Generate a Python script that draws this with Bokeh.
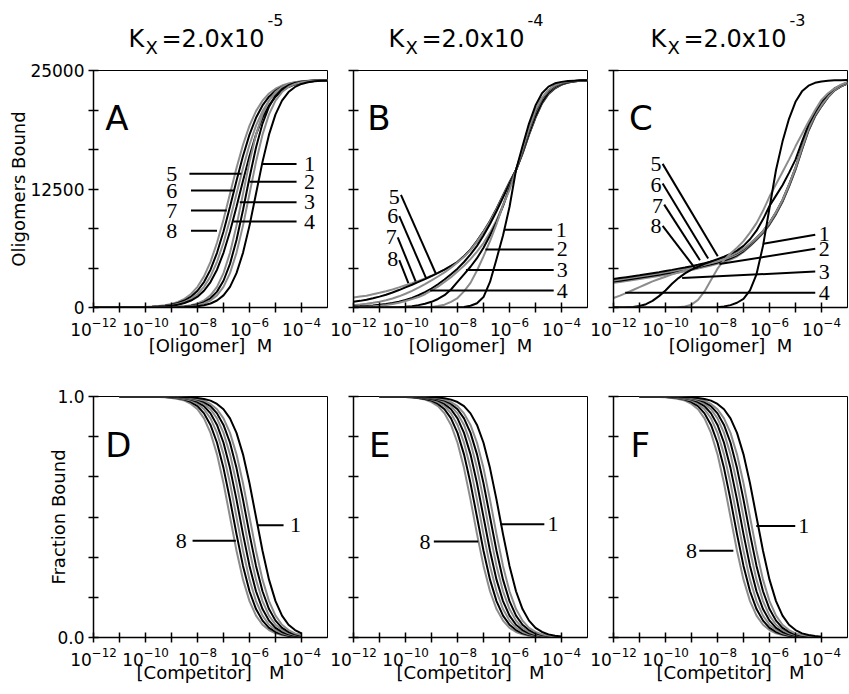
from bokeh.plotting import figure
from bokeh.models import Range1d, FixedTicker, Label, PrintfTickFormatter
from bokeh.layouts import column, row
from bokeh.embed import file_html
from bokeh.resources import INLINE

# ---------------- data (log10 concentration grids) ----------------
LOG_X_TOP = [-12.0, -11.75, -11.5, -11.25, -11.0, -10.75, -10.5, -10.25, -10.0, -9.75, -9.5, -9.25,
             -9.0, -8.75, -8.5, -8.25, -8.0, -7.75, -7.5, -7.25, -7.0, -6.75, -6.5, -6.25, -6.0,
             -5.75, -5.5, -5.25, -5.0, -4.75, -4.5, -4.25, -4.0, -3.75, -3.5, -3.25, -3.0]
LOG_X_BOT = [-11.0, -10.75, -10.5, -10.25, -10.0, -9.75, -9.5, -9.25, -9.0, -8.75, -8.5, -8.25,
             -8.0, -7.75, -7.5, -7.25, -7.0, -6.75, -6.5, -6.25, -6.0, -5.75, -5.5, -5.25, -5.0,
             -4.75, -4.5, -4.25, -4.0]

# Panel A : oligomers bound, Kx = 2.0e-5
A1 = [0,0,0,0,0,0,0,1,1,2,4,8,13,24,43,76,134,238,419,736,1278,2182,3624,5767,8638,12000,15362,18233,20376,21818,22723,23263,23581,23762,23866,23924,23957]
A2 = [0,0,0,0,0,0,1,1,2,4,8,13,24,43,76,134,238,419,736,1278,2182,3624,5767,8638,12000,15362,18233,20376,21818,22723,23263,23581,23762,23866,23924,23957,23976]
A3 = [0,0,0,0,0,1,1,2,3,6,10,18,32,57,101,179,316,556,971,1674,2822,4601,7118,10284,13716,16882,19399,21178,22325,23028,23443,23684,23821,23899,23943,23968,23982]
A4 = [0,0,0,0,0,1,1,2,4,8,13,24,43,76,134,238,419,736,1278,2182,3624,5767,8638,12000,15362,18233,20376,21818,22723,23263,23581,23762,23866,23924,23957,23976,23987]
A5 = [1,1,2,3,5,8,12,19,30,48,76,120,189,298,469,736,1145,1766,2683,3991,5767,8014,10625,13375,15986,18233,20009,21317,22234,22855,23264,23531,23702,23811,23880,23924,23952]
A6 = [1,2,2,4,6,10,15,24,38,60,95,150,238,374,588,919,1426,2182,3283,4819,6833,9286,12000,14714,17167,19181,20717,21818,22574,23081,23412,23626,23762,23850,23905,23940,23962]
A7 = [1,2,3,5,8,12,19,30,48,76,120,189,298,469,736,1145,1766,2683,3991,5767,8014,10625,13375,15986,18233,20009,21317,22234,22855,23264,23531,23702,23811,23880,23924,23952,23970]
A8 = [2,2,4,6,10,15,24,38,60,95,150,238,374,588,919,1426,2182,3283,4819,6833,9286,12000,14714,17167,19181,20717,21818,22574,23081,23412,23626,23762,23850,23905,23940,23962,23976]

# Panel B : oligomers bound, Kx = 2.0e-4
B1 = [0,0,0,0,0,0,0,0,0,0,0,0,0,0,5,10,20,60,180,450,1100,2700,5100,7600,10600,14500,17000,19400,21300,22600,23300,23650,23800,23880,23930,23960,23980]
B2 = [0,0,0,0,0,0,1,3,5,10,20,35,60,150,300,600,1000,1700,2600,3900,5400,7000,8800,10800,12400,14500,16700,18900,20800,22100,22950,23450,23700,23830,23900,23940,23970]
B3 = [0,1,2,4,8,15,30,50,80,140,250,400,600,900,1300,1900,2700,3500,4300,5200,6300,7600,9000,10700,12600,14500,16600,18800,20700,22050,22900,23400,23680,23820,23900,23940,23970]
B4 = [30,50,80,120,180,260,370,500,680,880,1100,1400,1800,2200,2700,3200,3800,4400,5100,5900,6800,7900,9200,10800,12700,14500,16500,18700,20600,22000,22850,23350,23650,23800,23890,23940,23970]
B5 = [100,130,170,220,290,370,480,620,800,1020,1290,1620,2000,2450,2950,3500,4100,4800,5600,6500,7600,8800,10150,11600,13050,14500,16350,18400,20200,21650,22650,23250,23560,23750,23870,23930,23965]
B6 = [250,310,390,490,610,760,950,1180,1450,1760,2100,2470,2860,3270,3700,4200,4750,5350,6050,6950,7950,9050,10350,11750,13150,14500,16300,18300,20100,21600,22600,23200,23540,23740,23860,23930,23965]
B7 = [600,700,820,970,1150,1350,1580,1840,2120,2400,2700,3000,3320,3650,4000,4380,4800,5400,6100,7000,8000,9100,10400,11800,13200,14500,16250,18250,20050,21550,22550,23150,23520,23730,23860,23920,23960]
B8 = [1050,1150,1250,1400,1550,1720,1900,2120,2350,2570,2800,3070,3350,3660,4000,4380,4820,5420,6130,7030,8050,9150,10450,11850,13250,14500,16200,18200,20000,21500,22500,23100,23500,23720,23850,23920,23960]

# Panel C : oligomers bound, Kx = 2.0e-3
C1 = [0,0,0,0,0,0,0,0,0,0,0,0,0,0,0,0,20,100,250,500,900,1800,3500,6500,10500,14500,17500,19900,21700,22800,23400,23700,23850,23920,23960,23980,23990]
C2 = [0,0,0,0,0,0,0,0,0,0,20,100,300,800,1700,2900,4100,5000,5700,6300,7000,7900,8900,10200,11700,13000,14300,15600,17000,18300,19600,20800,21900,22600,23100,23500,23780]
C3 = [0,5,20,60,150,350,700,1200,1800,2500,3100,3600,4000,4300,4600,4850,5100,5350,5650,6000,6500,7200,8100,9300,10700,11800,12900,14200,15600,17500,19300,20600,21700,22500,23100,23450,23750]
C4 = [1000,1250,1550,1850,2150,2450,2750,3000,3250,3500,3700,3900,4100,4300,4500,4700,4900,5150,5450,5800,6200,6750,7350,8050,8950,10050,11350,12950,14750,16850,18850,20350,21350,22250,22950,23350,23650]
C5 = [3000,3100,3200,3300,3400,3510,3620,3730,3850,3970,4100,4220,4350,4500,4660,4830,5000,5220,5450,5750,6150,6700,7350,8050,8950,10050,11350,12950,14750,16850,18850,20350,21350,22250,22950,23350,23650]
C6 = [2860,2960,3060,3160,3260,3370,3480,3590,3710,3830,3960,4080,4210,4360,4520,4690,4860,5080,5310,5620,6050,6620,7280,7980,8880,9980,11280,12880,14680,16780,18780,20280,21300,22220,22930,23340,23640]
C7 = [2730,2830,2930,3030,3130,3240,3350,3460,3580,3700,3830,3950,4080,4230,4390,4560,4730,4950,5180,5500,5950,6540,7200,7900,8800,9900,11200,12800,14600,16700,18700,20200,21250,22190,22910,23330,23630]
C8 = [2600,2700,2800,2900,3000,3110,3220,3330,3450,3570,3700,3820,3950,4100,4260,4430,4600,4820,5050,5380,5850,6450,7120,7820,8720,9820,11120,12720,14520,16620,18620,20120,21200,22160,22890,23320,23620]

# Panel D : fraction bound vs competitor, Kx = 2.0e-5
D1 = [1,1,1,1,1,1,1,1,0.999,0.999,0.998,0.997,0.994,0.990,0.983,0.969,0.947,0.909,0.849,0.760,0.640,0.500,0.360,0.240,0.151,0.091,0.053,0.031,0.017]
D2 = [1,1,1,1,1,1,1,0.999,0.999,0.998,0.997,0.994,0.990,0.983,0.969,0.947,0.909,0.849,0.760,0.640,0.500,0.360,0.240,0.151,0.091,0.053,0.031,0.017,0.010]
D3 = [1,1,1,1,1,1,1,0.999,0.999,0.998,0.996,0.993,0.987,0.977,0.960,0.930,0.882,0.808,0.703,0.572,0.429,0.297,0.192,0.118,0.070,0.040,0.023,0.013,0.007]
D4 = [1,1,1,1,1,1,0.999,0.999,0.998,0.997,0.994,0.990,0.983,0.969,0.947,0.909,0.849,0.760,0.640,0.500,0.360,0.240,0.151,0.091,0.053,0.031,0.017,0.010,0.006]
D5 = [1,1,1,1,1,1,0.999,0.999,0.998,0.996,0.993,0.987,0.977,0.960,0.930,0.882,0.808,0.703,0.572,0.429,0.297,0.192,0.118,0.070,0.040,0.023,0.013,0.007,0.004]
D6 = [1,1,1,1,1,0.999,0.999,0.998,0.997,0.994,0.990,0.983,0.969,0.947,0.909,0.849,0.760,0.640,0.500,0.360,0.240,0.151,0.091,0.053,0.031,0.017,0.010,0.006,0.003]
D7 = [1,1,1,1,1,0.999,0.999,0.998,0.996,0.993,0.987,0.977,0.960,0.930,0.882,0.808,0.703,0.572,0.429,0.297,0.192,0.118,0.070,0.040,0.023,0.013,0.007,0.004,0.002]
D8 = [1,1,1,1,0.999,0.999,0.998,0.997,0.994,0.990,0.983,0.969,0.947,0.909,0.849,0.760,0.640,0.500,0.360,0.240,0.151,0.091,0.053,0.031,0.017,0.010,0.006,0.003,0.002]

# Panel E : Kx = 2.0e-4
E1 = [1,1,1,1,1,1,0.999,0.999,0.998,0.996,0.993,0.987,0.977,0.960,0.930,0.882,0.808,0.703,0.572,0.429,0.297,0.192,0.118,0.070,0.040,0.023,0.013,0.007,0.004]
E2 = [1,1,1,1,1,0.999,0.999,0.998,0.996,0.993,0.987,0.977,0.960,0.930,0.882,0.808,0.703,0.572,0.429,0.297,0.192,0.118,0.070,0.040,0.023,0.013,0.007,0.004,0.002]
E3 = [1,1,1,1,0.999,0.999,0.998,0.997,0.994,0.990,0.983,0.969,0.947,0.909,0.849,0.760,0.640,0.500,0.360,0.240,0.151,0.091,0.053,0.031,0.017,0.010,0.006,0.003,0.002]
E4 = [1,1,1,1,0.999,0.999,0.998,0.996,0.993,0.987,0.977,0.960,0.930,0.882,0.808,0.703,0.572,0.429,0.297,0.192,0.118,0.070,0.040,0.023,0.013,0.007,0.004,0.002,0.001]
E5 = [1,1,1,0.999,0.999,0.998,0.997,0.994,0.990,0.983,0.969,0.947,0.909,0.849,0.760,0.640,0.500,0.360,0.240,0.151,0.091,0.053,0.031,0.017,0.010,0.006,0.003,0.002,0.001]
E6 = [1,1,1,0.999,0.999,0.998,0.996,0.993,0.987,0.977,0.960,0.930,0.882,0.808,0.703,0.572,0.429,0.297,0.192,0.118,0.070,0.040,0.023,0.013,0.007,0.004,0.002,0.001,0.001]
E7 = [1,1,0.999,0.999,0.998,0.997,0.994,0.990,0.983,0.969,0.947,0.909,0.849,0.760,0.640,0.500,0.360,0.240,0.151,0.091,0.053,0.031,0.017,0.010,0.006,0.003,0.002,0.001,0.001]
E8 = [1,1,0.999,0.999,0.998,0.996,0.993,0.987,0.977,0.960,0.930,0.882,0.808,0.703,0.572,0.429,0.297,0.192,0.118,0.070,0.040,0.023,0.013,0.007,0.004,0.002,0.001,0.001,0.0]

# Panel F : Kx = 2.0e-3
F1 = [1,1,1,1,1,0.999,0.999,0.998,0.997,0.994,0.990,0.983,0.969,0.947,0.909,0.849,0.760,0.640,0.500,0.360,0.240,0.151,0.091,0.053,0.031,0.017,0.010,0.006,0.003]
F2 = [1,1,1,1,0.999,0.999,0.998,0.997,0.994,0.990,0.983,0.969,0.947,0.909,0.849,0.760,0.640,0.500,0.360,0.240,0.151,0.091,0.053,0.031,0.017,0.010,0.006,0.003,0.002]
F3 = [1,1,1,1,0.999,0.999,0.998,0.996,0.993,0.987,0.977,0.960,0.930,0.882,0.808,0.703,0.572,0.429,0.297,0.192,0.118,0.070,0.040,0.023,0.013,0.007,0.004,0.002,0.001]
F4 = [1,1,1,0.999,0.999,0.998,0.997,0.994,0.990,0.983,0.969,0.947,0.909,0.849,0.760,0.640,0.500,0.360,0.240,0.151,0.091,0.053,0.031,0.017,0.010,0.006,0.003,0.002,0.001]
F5 = [1,1,1,0.999,0.999,0.998,0.996,0.993,0.987,0.977,0.960,0.930,0.882,0.808,0.703,0.572,0.429,0.297,0.192,0.118,0.070,0.040,0.023,0.013,0.007,0.004,0.002,0.001,0.001]
F6 = [1,1,0.999,0.999,0.998,0.997,0.994,0.990,0.983,0.969,0.947,0.909,0.849,0.760,0.640,0.500,0.360,0.240,0.151,0.091,0.053,0.031,0.017,0.010,0.006,0.003,0.002,0.001,0.001]
F7 = [1,1,0.999,0.999,0.998,0.996,0.993,0.987,0.977,0.960,0.930,0.882,0.808,0.703,0.572,0.429,0.297,0.192,0.118,0.070,0.040,0.023,0.013,0.007,0.004,0.002,0.001,0.001,0.0]
F8 = [1,0.999,0.999,0.998,0.997,0.994,0.990,0.983,0.969,0.947,0.909,0.849,0.760,0.640,0.500,0.360,0.240,0.151,0.091,0.053,0.031,0.017,0.010,0.006,0.003,0.002,0.001,0.001,0.0]

KX_EXPONENTS = ["-5", "-4", "-3"]
PANEL_LETTERS = ["A", "B", "C", "D", "E", "F"]
X_LABEL_EXPONENTS = [-12, -10, -8, -6, -4]
X_MINOR_EXPONENTS = [-11, -9, -7, -5]
Y_LABEL_TOP = [0, 12500, 25000]
Y_LABEL_BOT = [0.0, 1.0]

# ---------------- annotations (text, text x(log), text y, align, x0, y0, x1, y1) ----------------
A_NOTES = [("1", -3.9, 15150, "left", -5.53, 15150, -4.19, 15150),
           ("2", -3.9, 13260, "left", -6.0, 13260, -4.19, 13260),
           ("3", -3.9, 11090, "left", -6.375, 11090, -4.19, 11090),
           ("4", -3.9, 9060, "left", -6.625, 9060, -4.19, 9060),
           ("5", -8.78, 14120, "right", -8.31, 14120, -6.31, 14120),
           ("6", -8.78, 12330, "right", -8.25, 12330, -6.56, 12330),
           ("7", -8.78, 10230, "right", -8.25, 10230, -6.875, 10230),
           ("8", -8.78, 8090, "right", -8.25, 8090, -7.25, 8090)]
B_NOTES = [("1", -4.22, 8200, "left", -6.175, 8200, -4.36, 8200),
           ("2", -4.18, 6130, "left", -6.925, 6130, -4.3, 6130),
           ("3", -4.18, 3960, "left", -7.675, 3960, -4.3, 3960),
           ("4", -4.18, 1790, "left", -9.05, 1790, -4.3, 1790),
           ("5", -10.22, 11640, "right", -10.175, 11880, -8.84, 3616),
           ("6", -10.28, 9600, "right", -10.24, 9640, -9.21, 3099),
           ("7", -10.34, 7400, "right", -10.3, 7400, -9.61, 2755),
           ("8", -10.28, 5165, "right", -10.24, 4990, -9.89, 2583)]
C_NOTES = [("1", -4.11, 7750, "left", -6.24, 6715, -4.24, 7680),
           ("2", -4.11, 6200, "left", -7.925, 4580, -4.24, 6200),
           ("3", -4.11, 3790, "left", -9.36, 3100, -4.24, 3790),
           ("4", -4.11, 1550, "left", -11.55, 1550, -4.24, 1550),
           ("5", -10.15, 15150, "right", -10.11, 15150, -7.99, 5406),
           ("6", -10.15, 12910, "right", -10.11, 13090, -8.36, 5165),
           ("7", -10.1, 10670, "right", -10.05, 10850, -8.675, 4993),
           ("8", -10.15, 8610, "right", -10.11, 8610, -8.86, 4132)]
D_NOTES = [("1", -4.44, 0.466, "left", -5.69, 0.466, -4.69, 0.466),
           ("8", -8.41, 0.401, "right", -8.19, 0.401, -6.525, 0.401)]
E_NOTES = [("1", -4.54, 0.470, "left", -6.35, 0.470, -4.66, 0.470),
           ("8", -9.04, 0.398, "right", -8.91, 0.398, -7.2, 0.398)]
F_NOTES = [("1", -4.89, 0.463, "left", -6.51, 0.463, -5.01, 0.463),
           ("8", -8.79, 0.360, "right", -8.70, 0.360, -7.39, 0.360)]

LETTER_POS = [(-11.55, 19940), (-11.47, 19940), (-11.4, 19940),
              (-11.55, 0.797), (-11.4, 0.797), (-11.35, 0.797)]
TITLE_X = [128, 388, 650]   # pixel position of each "K" in the header strip

# ---------------- styling ----------------
SANS = "DejaVu Sans"
SERIF = "Liberation Serif"
BLACK = "#000000"
GRAY = "#8c8c8c"
COLORS = [BLACK, GRAY, BLACK, GRAY, BLACK, GRAY, BLACK, GRAY]
FW = 234
TOTAL_W = 849
HEADER_H = 60


def dec(e):
    return float("1e%d" % e)


def header():
    h = figure(width=TOTAL_W, height=HEADER_H, x_range=Range1d(0, TOTAL_W),
               y_range=Range1d(0, HEADER_H), min_border=0, x_axis_location=None,
               y_axis_location=None, output_backend="svg", toolbar_location=None)
    h.outline_line_color = None
    h.xgrid.visible = False
    h.ygrid.visible = False
    for i, x0 in enumerate(TITLE_X):
        for txt, ox, y, size in [("K", 0, 22, 24), ("X", 17, 13, 18), ("=2.0x10", 33, 22, 24),
                                 (KX_EXPONENTS[i], 139, 41, 16)]:
            h.add_layout(Label(x=x0 + ox, y=y, text=txt, text_font=SANS,
                               text_font_size="%dpx" % size, text_baseline="alphabetic",
                               text_align="left", text_color="black"))
    return h


def build(curves, logx, top, idx, notes, left_b, right_b, first):
    fh = 237 if top else 241
    yr = (0, 25000) if top else (0, 1)
    p = figure(x_axis_type="log", x_range=Range1d(1e-12, 1e-3), y_range=Range1d(*yr),
               frame_width=FW, frame_height=fh,
               min_border_left=left_b, min_border_right=right_b,
               min_border_top=10 if top else 34, min_border_bottom=55 if top else 52,
               output_backend="svg", toolbar_location=None,
               background_fill_color="white", border_fill_color="white")
    p.xgrid.visible = False
    p.ygrid.visible = False
    p.outline_line_color = "black"
    p.outline_line_width = 1
    p.outline_line_alpha = 1

    xs = [10 ** v for v in logx]
    for k in range(7, -1, -1):
        p.line(xs, curves[k], line_color=COLORS[k], line_width=2)

    # leader lines and curve numbers
    p.segment(x0=[10 ** n[4] for n in notes], y0=[n[5] for n in notes],
              x1=[10 ** n[6] for n in notes], y1=[n[7] for n in notes],
              line_color="black", line_width=2)
    for n in notes:
        p.add_layout(Label(x=10 ** n[1], y=n[2], text=n[0], text_font=SERIF,
                           text_font_size="22px", text_align=n[3], text_baseline="middle",
                           text_color="black"))

    lx, ly = LETTER_POS[idx]
    p.add_layout(Label(x=10 ** lx, y=ly, text=PANEL_LETTERS[idx], text_font=SANS,
                       text_font_size="34px", text_baseline="alphabetic", text_color="black"))

    xa = p.xaxis[0]
    ya = p.yaxis[0]
    xa.ticker = FixedTicker(ticks=[dec(e) for e in X_LABEL_EXPONENTS],
                            minor_ticks=[dec(e) for e in X_MINOR_EXPONENTS])
    if top:
        ymaj = Y_LABEL_TOP
        ymin = [25000 / 6 * k for k in (1, 2, 4, 5)]
    else:
        ymaj = Y_LABEL_BOT
        ymin = [k / 6 for k in (1, 2, 3, 4, 5)]
    if first:
        ya.ticker = FixedTicker(ticks=ymaj, minor_ticks=ymin)
        if not top:
            ya.formatter = PrintfTickFormatter(format="%.1f")
    else:
        ya.ticker = FixedTicker(ticks=[], minor_ticks=sorted(ymaj + ymin))
    for ax in (xa, ya):
        ax.major_tick_in = 5
        ax.major_tick_out = 5
        ax.minor_tick_in = 5
        ax.minor_tick_out = 5
        ax.axis_line_width = 1.5
        ax.major_tick_line_width = 1.5
        ax.minor_tick_line_width = 1.5
        ax.axis_line_color = "black"
        ax.major_tick_line_color = "black"
        ax.minor_tick_line_color = "black"
        ax.major_label_text_font = SANS
        ax.major_label_text_font_size = "17px"
        ax.major_label_text_color = "black"
        ax.major_label_standoff = 4
        ax.axis_label_text_font = SANS
        ax.axis_label_text_font_size = "18px"
        ax.axis_label_text_font_style = "normal"
        ax.axis_label_text_color = "black"
    xa.axis_label = "[Oligomer]\u00a0\u00a0M" if top else "[Competitor]\u00a0\u00a0\u00a0M"
    xa.axis_label_standoff = -4 if top else -7
    if first:
        ya.axis_label = "Oligomers Bound" if top else "Fraction Bound"
        ya.axis_label_standoff = -2 if top else -15
    return p


pA = build([A1, A2, A3, A4, A5, A6, A7, A8], LOG_X_TOP, True, 0, A_NOTES, 93, 1, True)
pB = build([B1, B2, B3, B4, B5, B6, B7, B8], LOG_X_TOP, True, 1, B_NOTES, 25, 1, False)
pC = build([C1, C2, C3, C4, C5, C6, C7, C8], LOG_X_TOP, True, 2, C_NOTES, 25, 2, False)
pD = build([D1, D2, D3, D4, D5, D6, D7, D8], LOG_X_BOT, False, 3, D_NOTES, 93, 1, True)
pE = build([E1, E2, E3, E4, E5, E6, E7, E8], LOG_X_BOT, False, 4, E_NOTES, 25, 1, False)
pF = build([F1, F2, F3, F4, F5, F6, F7, F8], LOG_X_BOT, False, 5, F_NOTES, 25, 2, False)

layout = column(header(), row(pA, pB, pC), row(pD, pE, pF))
open("out.html", "w").write(file_html(layout, INLINE))
